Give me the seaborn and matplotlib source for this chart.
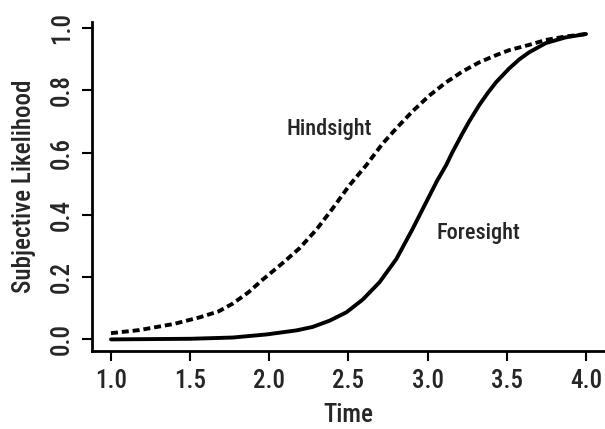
import matplotlib
matplotlib.use("Agg")
import matplotlib.pyplot as plt
import seaborn as sns
from matplotlib import font_manager

sns.set_theme(style="ticks")
names = {f.name for f in font_manager.fontManager.ttflist}
fam = ["Roboto Condensed", "Liberation Sans Narrow", "Liberation Sans", "DejaVu Sans"]
fam = [f for f in fam if f in names] or ["DejaVu Sans"]
plt.rcParams["font.family"] = fam

hind_x = [1.0, 1.18, 1.246, 1.4, 1.561, 1.68, 1.769, 1.87, 1.958, 2.084, 2.191,
          2.298, 2.399, 2.506, 2.613, 2.714, 2.802, 2.903, 3.010, 3.117, 3.218,
          3.325, 3.432, 3.514, 3.640, 3.747, 3.87, 4.0]
hind_y = [0.020, 0.030, 0.036, 0.050, 0.071, 0.090, 0.115, 0.152, 0.192, 0.245, 0.293,
          0.353, 0.420, 0.495, 0.560, 0.628, 0.678, 0.732, 0.783, 0.826, 0.860,
          0.890, 0.913, 0.929, 0.946, 0.962, 0.973, 0.981]
fore_x = [1.0, 1.25, 1.5, 1.769, 1.983, 2.172, 2.273, 2.38, 2.487, 2.59, 2.695,
          2.802, 2.903, 2.95, 3.010, 3.06, 3.117, 3.155, 3.218, 3.262, 3.325,
          3.38, 3.432, 3.514, 3.580, 3.640, 3.747, 3.87, 4.0]
fore_y = [0.0, 0.001, 0.002, 0.006, 0.016, 0.029, 0.040, 0.060, 0.087, 0.128, 0.183,
          0.258, 0.353, 0.400, 0.460, 0.510, 0.560, 0.600, 0.660, 0.700, 0.752,
          0.792, 0.826, 0.870, 0.900, 0.922, 0.952, 0.970, 0.981]
x_ticks = [1.0, 1.5, 2.0, 2.5, 3.0, 3.5, 4.0]
y_ticks = [0.0, 0.2, 0.4, 0.6, 0.8, 1.0]

fig = plt.figure(figsize=(6.05, 4.29), dpi=100)
ax = fig.add_axes([0.152, 0.182, 0.848, 0.767])

sns.lineplot(x=fore_x, y=fore_y, ax=ax, color="black", lw=2.8, sort=False,
             solid_capstyle="round", solid_joinstyle="round")
sns.lineplot(x=hind_x, y=hind_y, ax=ax, color="black", lw=2.8, sort=False,
             linestyle=(0, (1.8, 1.0)), dash_joinstyle="round")

tw = "medium"
ax.text(2.38, 0.676, "Hindsight", fontsize=16, ha="center", va="center", fontweight=tw)
ax.text(3.32, 0.343, "Foresight", fontsize=16, ha="center", va="center", fontweight=tw)

ax.set_xlim(0.88, 4.12)
ax.set_ylim(-0.037, 1.02)
ax.set_xticks(x_ticks)
ax.set_xticklabels([f"{v:.1f}" for v in x_ticks], fontweight=tw)
ax.set_yticks(y_ticks)
ax.set_yticklabels([f"{v:.1f}" for v in y_ticks], rotation=90, va="center", fontweight=tw)
ax.tick_params(axis="both", labelsize=18, length=7, width=1.5, color="black",
               pad=6, direction="out")
ax.set_xlabel("Time", fontsize=18, labelpad=7, fontweight=tw)
ax.set_ylabel("Subjective Likelihood", fontsize=18, labelpad=10, fontweight=tw)
for s in ["top", "right"]:
    ax.spines[s].set_visible(False)
for s in ["left", "bottom"]:
    ax.spines[s].set_linewidth(2.0)
    ax.spines[s].set_color("black")

fig.savefig("out.png", dpi=100)
